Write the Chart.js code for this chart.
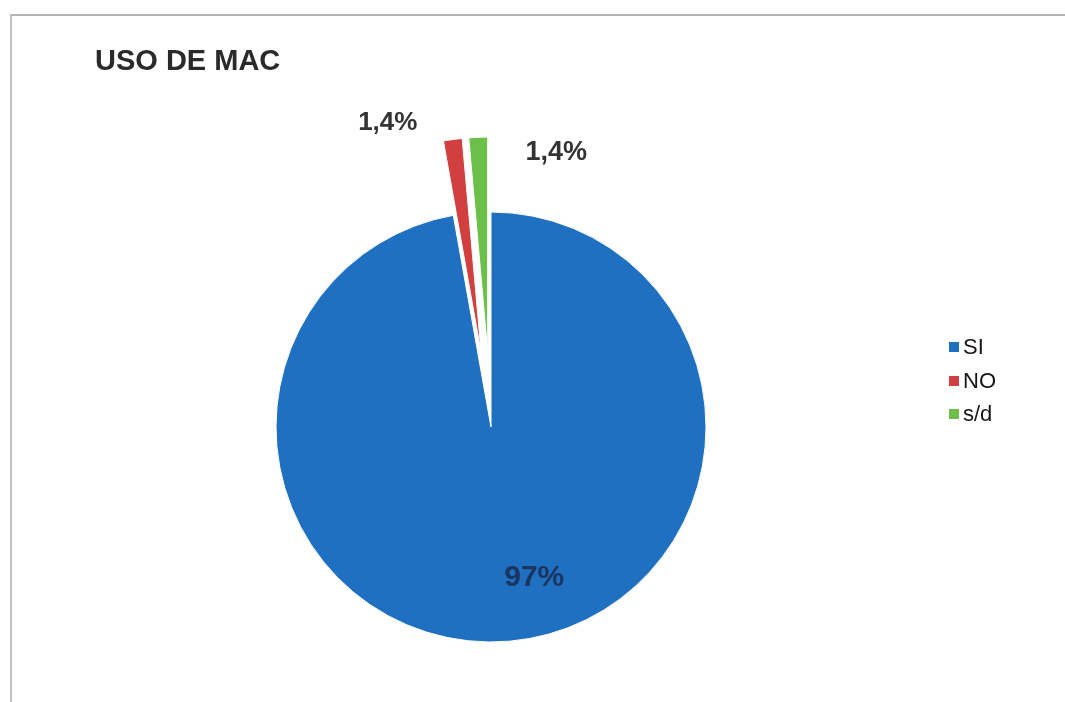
<!DOCTYPE html>
<html lang="es">
<head>
<meta charset="utf-8">
<title>Uso de MAC</title>
<script src="https://cdn.jsdelivr.net/npm/chart.js@4.4.1/dist/chart.umd.min.js"></script>
<style>
    html, body { margin: 0; padding: 0; background: #fff; }
    body { width: 1065px; height: 702px; position: relative; overflow: hidden; font-family: "Liberation Sans", Arial, sans-serif; }
    #moldura { position: absolute; left: 10px; top: 14px; right: -5px; bottom: -5px; border-top: 2px solid #b5b5b5; border-left: 2px solid #c4c4c4; }
    #titulo { position: absolute; left: 95px; top: 46px; font-size: 29px; line-height: 29px; font-weight: bold; color: #2a2a2a; white-space: nowrap; }
    #legenda { position: absolute; left: 949px; top: 330px; list-style: none; margin: 0; padding: 0; }
    #legenda li { display: flex; align-items: center; height: 33.8px; font-size: 22px; color: #161616; }
    #legenda .caixa { width: 10px; height: 10px; margin-right: 4px; }
    canvas { position: absolute; left: 0; top: 0; }
</style>
</head>
<body>
<div id="moldura"></div>
<canvas id="grafico" width="1065" height="702"></canvas>
<div id="titulo">USO DE MAC</div>
<ul id="legenda"></ul>
<script>
// Dados
const categorias = ['SI', 'NO', 's/d'];
const valores = [97, 1.4, 1.4];

// Estilo (cores, distância das fatias destacadas, rótulos)
const cores = ['#2070c2', '#d23f3f', '#6cc04a'];
const destaque = [0, 75, 75];
const estiloRotulo = [
    { raio: 0.7, dx: 30, dy: 1, cor: '#1b3560', fonte: 'bold 30px "Liberation Sans", Arial, sans-serif' },
    { raio: 1, dx: -65, dy: -17, cor: '#333', fonte: 'bold 26px "Liberation Sans", Arial, sans-serif' },
    { raio: 1, dx: 78, dy: 15, cor: '#333', fonte: 'bold 27px "Liberation Sans", Arial, sans-serif' }
];

const formatar = (v) => String(v).replace('.', ',') + '%';

// Afasta as fatias pequenas do centro sem estreitá-las
// (o "offset" do Chart.js v4 afina fatias muito finas)
const pluginDestaque = {
    id: 'destaque',
    afterDatasetsUpdate(chart) {
        chart.getDatasetMeta(0).data.forEach((arco, i) => {
            const meio = (arco.startAngle + arco.endAngle) / 2;
            arco.x += Math.cos(meio) * destaque[i];
            arco.y += Math.sin(meio) * destaque[i];
        });
    }
};

// Rótulos de dados desenhados sobre as fatias
const pluginRotulos = {
    id: 'rotulos',
    afterDatasetsDraw(chart) {
        const c = chart.ctx;
        const arcos = chart.getDatasetMeta(0).data;
        c.save();
        c.textAlign = 'center';
        c.textBaseline = 'middle';
        arcos.forEach((arco, i) => {
            const p = arco.getProps(['x', 'y', 'startAngle', 'endAngle', 'outerRadius'], true);
            const meio = (p.startAngle + p.endAngle) / 2;
            const r = p.outerRadius * estiloRotulo[i].raio;
            const px = p.x + Math.cos(meio) * r + estiloRotulo[i].dx;
            const py = p.y + Math.sin(meio) * r + estiloRotulo[i].dy;
            c.font = estiloRotulo[i].fonte;
            c.fillStyle = estiloRotulo[i].cor;
            c.fillText(formatar(valores[i]), px, py);
        });
        c.restore();
    }
};

new Chart(document.getElementById('grafico'), {
    type: 'pie',
    data: {
        labels: categorias,
        datasets: [{
            data: valores,
            backgroundColor: cores,
            borderColor: '#fff',
            borderWidth: 1,
            hoverOffset: 0,
            clip: false
        }]
    },
    options: {
        responsive: false,
        animation: false,
        events: [],
        radius: 215,
        layout: { padding: { left: 0, right: 83, top: 152, bottom: 0 } },
        plugins: {
            legend: { display: false },
            tooltip: { enabled: false }
        }
    },
    plugins: [pluginDestaque, pluginRotulos]
});

// Legenda em HTML montada a partir das categorias
const legenda = document.getElementById('legenda');
categorias.forEach((nome, i) => {
    const li = document.createElement('li');
    li.innerHTML = `<span class="caixa" style="background:${cores[i]}"></span><span>${nome}</span>`;
    legenda.appendChild(li);
});
</script>
</body>
</html>
